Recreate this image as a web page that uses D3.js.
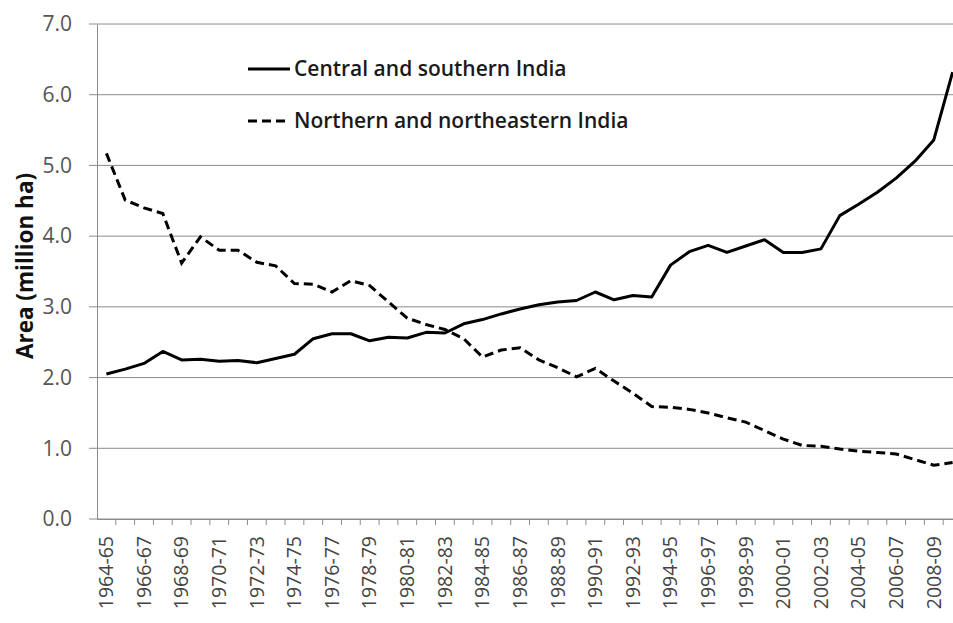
<!DOCTYPE html>
<html>
<head>
<meta charset="utf-8">
<script src="https://cdn.jsdelivr.net/npm/d3@7"></script>
<style>
  body { margin: 0; background: #fff; }
  svg { display: block; }
</style>
</head>
<body>
<svg id="chart"></svg>
<script>
// data
var years = ["1964-65","1965-66","1966-67","1967-68","1968-69","1969-70","1970-71","1971-72",
  "1972-73","1973-74","1974-75","1975-76","1976-77","1977-78","1978-79","1979-80","1980-81",
  "1981-82","1982-83","1983-84","1984-85","1985-86","1986-87","1987-88","1988-89","1989-90",
  "1990-91","1991-92","1992-93","1993-94","1994-95","1995-96","1996-97","1997-98","1998-99",
  "1999-00","2000-01","2001-02","2002-03","2003-04","2004-05","2005-06","2006-07","2007-08",
  "2008-09","2009-10"];
var central = [2.05,2.12,2.2,2.37,2.25,2.26,2.23,2.24,2.21,2.27,2.33,2.55,2.62,2.62,2.52,2.57,2.56,
  2.64,2.63,2.76,2.82,2.9,2.97,3.03,3.07,3.09,3.21,3.1,3.16,3.14,3.59,3.78,3.87,3.77,3.86,3.95,
  3.77,3.77,3.82,4.29,4.45,4.62,4.82,5.06,5.36,6.32];
var northern = [5.17,4.51,4.4,4.32,3.62,3.99,3.8,3.8,3.63,3.58,3.33,3.32,3.21,3.37,3.3,3.07,2.84,
  2.75,2.68,2.55,2.29,2.39,2.42,2.25,2.14,2.01,2.13,1.95,1.78,1.59,1.58,1.55,1.5,1.43,1.37,1.25,
  1.13,1.04,1.03,0.99,0.96,0.94,0.92,0.84,0.76,0.8];
var yTicks = [0,1,2,3,4,5,6,7];
var seriesNames = ["Central and southern India", "Northern and northeastern India"];

var margin = {top: 24, right: 0, bottom: 104, left: 97},
    width = 865,
    height = 519 - margin.top;

var svg = d3.select("#chart")
  .attr("width", 953)
  .attr("height", 623)
  .append("g")
  .attr("transform", `translate(${margin.left}, ${margin.top})`);

var x = d3.scaleBand()
  .domain(years)
  .range([0, width])
  .padding(0);

var y = d3.scaleLinear()
  .domain([0, 7])
  .range([height, 0]);

var font = "'Open Sans', 'Liberation Sans', sans-serif";

// gridlines
svg.append("g")
  .selectAll("line")
  .data(yTicks)
  .join("line")
  .attr("x1", -8)
  .attr("x2", width)
  .attr("y1", d => y(d))
  .attr("y2", d => y(d))
  .attr("stroke", "#8c8c8c")
  .attr("stroke-width", 1);

// y axis
var yAxis = svg.append("g")
  .call(d3.axisLeft(y).tickValues(yTicks).tickFormat(d3.format(".1f")).tickSize(0).tickPadding(25));
yAxis.select(".domain").attr("stroke", "#8c8c8c");
yAxis.selectAll("text")
  .style("font-family", font)
  .style("font-size", "21px")
  .attr("fill", "#555");

// x axis: ticks at category boundaries, labels at centers
var xAxis = svg.append("g")
  .attr("transform", `translate(0,${height})`)
  .call(d3.axisBottom(x).tickSize(0).tickFormat((d, i) => i % 2 == 0 ? d : ""));
xAxis.select(".domain").attr("stroke", "#8c8c8c");
xAxis.selectAll("text")
  .attr("transform", "rotate(-90)")
  .attr("x", -17)
  .attr("y", 0)
  .attr("dy", "0.35em")
  .style("text-anchor", "end")
  .style("font-family", font)
  .style("font-size", "19.5px")
  .attr("fill", "#444");

svg.append("g")
  .attr("transform", `translate(0,${height})`)
  .selectAll("line")
  .data(years)
  .join("line")
  .attr("x1", d => x(d) + x.bandwidth())
  .attr("x2", d => x(d) + x.bandwidth())
  .attr("y1", 0)
  .attr("y2", 6)
  .attr("stroke", "#8c8c8c");

// lines
var line = d3.line()
  .x((d, i) => x(years[i]) + x.bandwidth() / 2)
  .y(d => y(d));

svg.append("path")
  .datum(central)
  .attr("fill", "none")
  .attr("stroke", "#000")
  .attr("stroke-width", 3)
  .attr("stroke-linejoin", "round")
  .attr("d", line);

svg.append("path")
  .datum(northern)
  .attr("fill", "none")
  .attr("stroke", "#000")
  .attr("stroke-width", 3)
  .attr("stroke-dasharray", "9,5")
  .attr("d", line);

// legend
var legend = svg.append("g")
  .attr("transform", "translate(151,45)");
seriesNames.forEach(function(name, i) {
  var g = legend.append("g").attr("transform", `translate(0,${i * 52})`);
  g.append("line")
    .attr("x1", 0).attr("x2", 42)
    .attr("y1", 0).attr("y2", 0)
    .attr("stroke", "#000")
    .attr("stroke-width", 3)
    .attr("stroke-dasharray", i == 1 ? "9,5" : null);
  g.append("text")
    .attr("x", 46)
    .attr("y", 0)
    .attr("dy", "0.35em")
    .style("font-family", font)
    .style("font-size", "21px")
    .style("font-weight", 600)
    .attr("fill", "#1a1a1a")
    .text(name);
});

// Y axis label
svg.append("text")
  .attr("text-anchor", "middle")
  .attr("transform", "rotate(-90)")
  .attr("x", -(266 - margin.top))
  .attr("y", -margin.left + 33)
  .style("font-family", font)
  .style("font-size", "22.5px")
  .style("font-weight", "bold")
  .attr("fill", "#111")
  .text("Area (million ha)");
</script>
</body>
</html>
